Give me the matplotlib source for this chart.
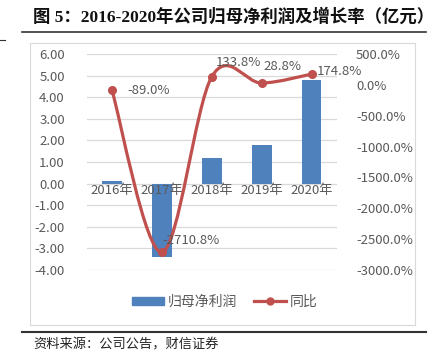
import numpy as np
import matplotlib
matplotlib.use('Agg')
import matplotlib.pyplot as plt
from matplotlib.path import Path
from matplotlib.patches import PathPatch, Rectangle
from matplotlib.lines import Line2D

plt.rcParams['font.family'] = ['Noto Sans CJK SC', 'DejaVu Sans']
plt.rcParams['axes.unicode_minus'] = False

# data
years = ['2016年', '2017年', '2018年', '2019年', '2020年']
profit = [0.13, -3.38, 1.17, 1.77, 4.79]          # 亿元
growth = [-89.0, -2710.8, 133.8, 28.8, 174.8]      # %
growth_labels = ['-89.0%', '-2710.8%', '133.8%', '28.8%', '174.8%']
left_ticks = [6, 5, 4, 3, 2, 1, 0, -1, -2, -3, -4]
right_ticks = [500, 0, -500, -1000, -1500, -2000, -2500, -3000]

BLUE = '#4F81BD'
RED = '#C0504D'
GRAY = '#595959'
GRID = '#D9D9D9'

W, H = 436, 363
fig = plt.figure(figsize=(W / 100, H / 100), dpi=100)

# page decorations (figure pixel coords -> fraction)
def fx(px):
    return px / W

def fy(py):
    return 1 - py / H

fig.text(fx(33), fy(17), '图 5：2016-2020年公司归母净利润及增长率（亿元）',
         family=['Liberation Serif', 'Noto Sans CJK SC'], weight='bold',
         fontsize=12.5, va='center', ha='left', color='#111111')
fig.add_artist(Line2D([fx(22), fx(426)], [fy(32), fy(32)], color='#333333', lw=1.2))
fig.add_artist(Line2D([fx(0), fx(5)], [fy(40), fy(40)], color='#333333', lw=0.8))
fig.add_artist(Rectangle((fx(30), fy(325)), fx(415) - fx(30), fy(43) - fy(325),
                         fill=False, edgecolor=GRID, lw=0.8))
fig.add_artist(Line2D([fx(22), fx(426)], [fy(331.5), fy(331.5)], color='#333333', lw=1.5))
fig.text(fx(33), fy(345), '资料来源：公司公告，财信证券', fontsize=9.5,
         style='italic', va='center', ha='left', color='#222222')

# main axes
ax = fig.add_axes([fx(87), fy(270), fx(336.7) - fx(87), fy(54) - fy(270)])
x = np.arange(len(years))
ax.bar(x, profit, width=0.39, color=BLUE, zorder=2)
ax.set_xlim(-0.5, 4.5)
ax.set_ylim(-4, 6)
ax.set_yticks(left_ticks)
ax.set_yticklabels(['%.2f' % v for v in left_ticks])
ax.yaxis.grid(True, color=GRID, lw=0.9)
ax.set_axisbelow(True)
ax.set_xticks([])
for s in ax.spines.values():
    s.set_visible(False)
ax.tick_params(axis='y', length=0, pad=16, labelsize=9.5, labelcolor=GRAY)
for i, yr in enumerate(years):
    ax.text(i, -0.3, yr, ha='center', va='center', fontsize=9.5, color=GRAY, zorder=3)

# secondary axis with smoothed line
ax2 = ax.twinx()
ax2.set_ylim(-3000, 500)
ax2.set_yticks(right_ticks)
ax2.set_yticklabels(['%.1f%%' % v for v in right_ticks])
for s in ax2.spines.values():
    s.set_visible(False)
ax2.tick_params(axis='y', length=0, pad=14, labelsize=9.5, labelcolor=GRAY)

pts = np.column_stack([x, growth]).astype(float)
verts = [pts[0]]
codes = [Path.MOVETO]
n = len(pts)
for i in range(n - 1):
    p0 = pts[i - 1] if i > 0 else pts[i]
    p1 = pts[i]
    p2 = pts[i + 1]
    p3 = pts[i + 2] if i + 2 < n else pts[i + 1]
    verts += [p1 + (p2 - p0) / 6, p2 - (p3 - p1) / 6, p2]
    codes += [Path.CURVE4] * 3
ax2.add_patch(PathPatch(Path(verts, codes), fill=False, edgecolor=RED, lw=2.3,
                        capstyle='round', joinstyle='round', zorder=3))
ax2.plot(x, growth, 'o', color=RED, ms=5.5, zorder=4)

offsets = [(15, 0, 'left'), (0, 12, 'left'), (4, 14, 'left'), (2, 17, 'left'), (5, 3, 'left')]
for i, lab in enumerate(growth_labels):
    dx, dy, ha = offsets[i]
    ax2.annotate(lab, (x[i], growth[i]), xytext=(dx, dy), textcoords='offset pixels',
                 ha=ha, va='center', fontsize=9.5, color=GRAY, zorder=5)

# legend
handles = [Rectangle((0, 0), 1, 1, color=BLUE),
           Line2D([], [], color=RED, lw=2.3, marker='o', ms=5)]
fig.legend(handles, ['归母净利润', '同比'], loc='center', bbox_to_anchor=(fx(225), fy(301.5)),
           ncol=2, frameon=False, fontsize=10, labelcolor=GRAY, handlelength=2.3,
           handleheight=0.5, columnspacing=1.2, handletextpad=0.3)

fig.savefig('out.png', dpi=100)
